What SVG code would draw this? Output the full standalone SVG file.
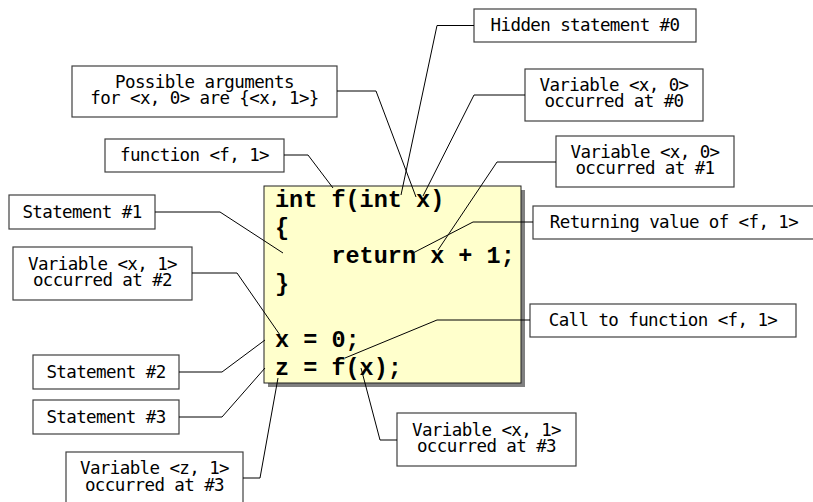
<svg xmlns="http://www.w3.org/2000/svg" width="813" height="502" viewBox="0 0 813 502">
  <style>
    .box { fill: #ffffff; stroke: #404040; stroke-width: 1.2; }
    .lbl { font-family: "DejaVu Sans Mono", "Liberation Mono", monospace; font-size: 17.5px; letter-spacing: -0.6px; fill: #000; text-anchor: middle; }
    .code { font-family: "Liberation Mono", "Courier New", monospace; font-weight: bold; font-size: 23.5px; fill: #000; white-space: pre; }
    .wire { fill: none; stroke: #000; stroke-width: 1; }
  </style>
  <rect width="813" height="502" fill="#ffffff"/>

  <!-- source listing -->
  <g id="code">
    <rect x="268" y="190" width="257" height="197" fill="#808080"/>
    <rect x="264" y="186" width="257" height="197" fill="#ffffcc" stroke="#202020" stroke-width="1"/>
    <text class="code" x="275" y="207" xml:space="preserve">int f(int x)</text>
    <text class="code" x="275" y="235">{</text>
    <text class="code" x="275" y="263" xml:space="preserve">    return x + 1;</text>
    <text class="code" x="275" y="291">}</text>
    <text class="code" x="275" y="347" xml:space="preserve">x = 0;</text>
    <text class="code" x="275" y="375" xml:space="preserve">z = f(x);</text>
  </g>

  <!-- annotation boxes -->
  <g id="hidden-stmt0">
    <rect class="box" x="474" y="9" width="222" height="33"/>
    <text class="lbl" x="585" y="31">Hidden statement #0</text>
  </g>
  <g id="possible-args">
    <rect class="box" x="72" y="66" width="265" height="51"/>
    <text class="lbl" x="204.5" y="87.5">Possible arguments</text>
    <text class="lbl" x="204.5" y="104">for &lt;x, 0&gt; are {&lt;x, 1&gt;}</text>
  </g>
  <g id="var-x0-at0">
    <rect class="box" x="525" y="69" width="178" height="52"/>
    <text class="lbl" x="614" y="91">Variable &lt;x, 0&gt;</text>
    <text class="lbl" x="614" y="107">occurred at #0</text>
  </g>
  <g id="function-f1">
    <rect class="box" x="105" y="139" width="179" height="33"/>
    <text class="lbl" x="194.5" y="161">function &lt;f, 1&gt;</text>
  </g>
  <g id="var-x0-at1">
    <rect class="box" x="556" y="136" width="178" height="51"/>
    <text class="lbl" x="645" y="157.5">Variable &lt;x, 0&gt;</text>
    <text class="lbl" x="645" y="174">occurred at #1</text>
  </g>
  <g id="stmt1">
    <rect class="box" x="9" y="195" width="146" height="34"/>
    <text class="lbl" x="82" y="217.5">Statement #1</text>
  </g>
  <g id="return-value">
    <rect class="box" x="533" y="206" width="282" height="33"/>
    <text class="lbl" x="674" y="228">Returning value of &lt;f, 1&gt;</text>
  </g>
  <g id="var-x1-at2">
    <rect class="box" x="13" y="247" width="179" height="53"/>
    <text class="lbl" x="102.5" y="269.5">Variable &lt;x, 1&gt;</text>
    <text class="lbl" x="102.5" y="286">occurred at #2</text>
  </g>
  <g id="call-f1">
    <rect class="box" x="530" y="304" width="266" height="33"/>
    <text class="lbl" x="663" y="326">Call to function &lt;f, 1&gt;</text>
  </g>
  <g id="stmt2">
    <rect class="box" x="33" y="355" width="146" height="34"/>
    <text class="lbl" x="106" y="377.5">Statement #2</text>
  </g>
  <g id="stmt3">
    <rect class="box" x="33" y="400" width="146" height="34"/>
    <text class="lbl" x="106" y="422.5">Statement #3</text>
  </g>
  <g id="var-x1-at3">
    <rect class="box" x="397" y="413" width="179" height="53"/>
    <text class="lbl" x="486.5" y="435.5">Variable &lt;x, 1&gt;</text>
    <text class="lbl" x="486.5" y="452">occurred at #3</text>
  </g>
  <g id="var-z1-at3">
    <rect class="box" x="66" y="452" width="177" height="54"/>
    <text class="lbl" x="154.5" y="474">Variable &lt;z, 1&gt;</text>
    <text class="lbl" x="154.5" y="490.5">occurred at #3</text>
  </g>

  <!-- leader lines from labels to code -->
  <g id="connectors">
    <polyline class="wire" points="474,25.5 437,25.5 401,195"/>
    <polyline class="wire" points="337,91 376,91 416,197"/>
    <polyline class="wire" points="525,95 474,95 423,196"/>
    <polyline class="wire" points="284,155 308,155 333,188"/>
    <polyline class="wire" points="556,162 497,162 438,250"/>
    <polyline class="wire" points="155,212 220,212 283,253"/>
    <polyline class="wire" points="533,222 473,222 413,253"/>
    <polyline class="wire" points="192,273 237,273 280,335"/>
    <polyline class="wire" points="530,320 437,320 345,358"/>
    <polyline class="wire" points="179,372 222,372 265,340"/>
    <polyline class="wire" points="179,417 222,417 265,368"/>
    <polyline class="wire" points="397,440 380,440 361,368"/>
    <polyline class="wire" points="243,478 260,478 278,378"/>
  </g>
</svg>
